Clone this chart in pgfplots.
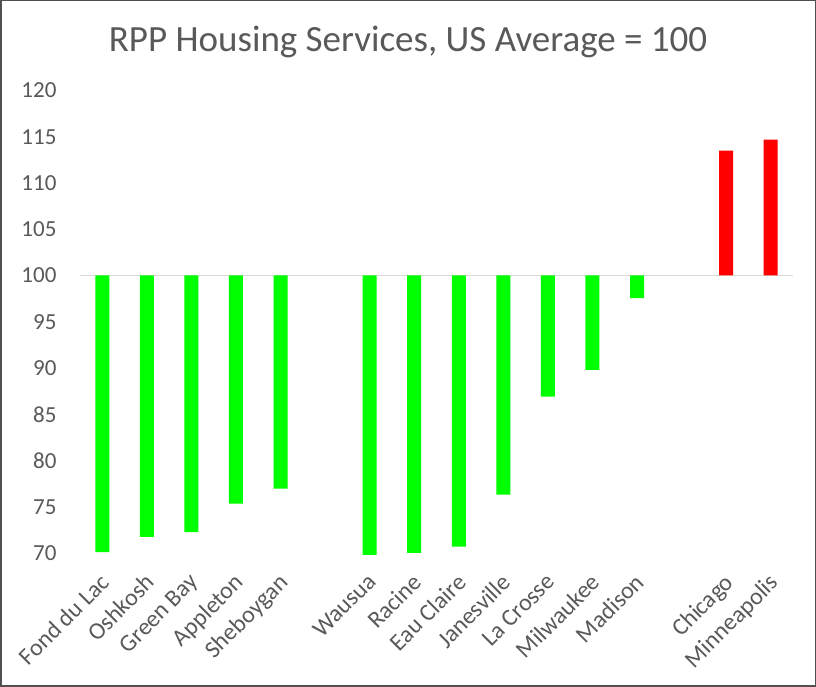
\documentclass[border=0pt]{standalone}
\usepackage{pgfplots}
\pgfplotsset{compat=1.18}
\usepackage{fontspec}
\setmainfont{Carlito}
\definecolor{txt}{HTML}{595959}
\definecolor{barg}{HTML}{00FF00}
\definecolor{barr}{HTML}{FF0000}
\definecolor{basec}{HTML}{D9D9D9}
\definecolor{framec}{HTML}{505050}
\begin{document}
\begin{tikzpicture}[x=1pt,y=1pt]
\draw[framec, line width=1.5pt] (0.75,0.75) rectangle (815.25,686.25);
\node[txt, font=\fontsize{37}{44}\selectfont] at (408,645) {RPP Housing Services, US Average = 100};
\begin{axis}[
 at={(80pt,134pt)}, anchor=south west,
 scale only axis, width=713pt, height=462.5pt,
 xmin=-0.5, xmax=15.5, ymin=70, ymax=120,
 y coord trafo/.code={\pgfmathparse{#1-100}},
 y coord inv trafo/.code={\pgfmathparse{#1+100}},
 ytick={70,75,...,120},
 xtick={0,1,2,3,4,6,7,8,9,10,11,12,14,15},
 xticklabels={Fond du Lac, Oshkosh, Green Bay, Appleton, Sheboygan, Wausua, Racine, Eau Claire, Janesville, La Crosse, Milwaukee, Madison, Chicago, Minneapolis},
 axis line style={draw=none},
 major tick length=0pt,
 tick label style={txt, font=\fontsize{23}{27}\selectfont},
 /pgf/number format/assume math mode=true,
 yticklabel={\pgfmathprintnumber[fixed,precision=0]{\tick}},
 yticklabel style={anchor=east, xshift=-20pt},
 xticklabel style={font=\fontsize{24}{28}\selectfont, anchor=north east, inner sep=0pt, xshift=-3pt, yshift=-19pt, rotate=45},
 clip=false,
]
\draw[basec, line width=1.5pt] (axis cs:-0.5,100) -- (axis cs:15.5,100);
\addplot[ybar, bar width=14pt, bar shift=0pt, fill=barg, draw=none] coordinates {(0,70.1)(1,71.75)(2,72.25)(3,75.35)(4,76.95)(6,69.8)(7,70.0)(8,70.7)(9,76.3)(10,86.9)(11,89.8)(12,97.55)};
\addplot[ybar, bar width=14pt, bar shift=0pt, fill=barr, draw=none] coordinates {(14,113.5)(15,114.7)};
\end{axis}
\end{tikzpicture}
\end{document}
